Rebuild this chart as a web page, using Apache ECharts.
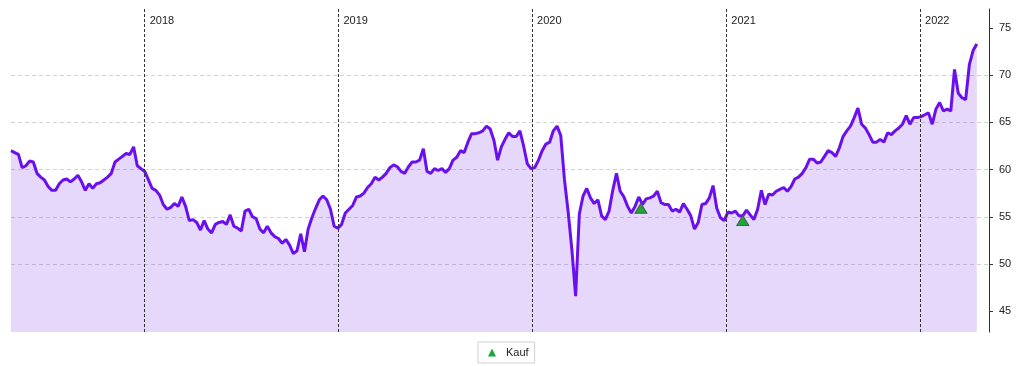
<!DOCTYPE html>
<html>
<head>
<meta charset="utf-8">
<script src="https://cdn.jsdelivr.net/npm/echarts@6/dist/echarts.min.js"></script>
<style>
html,body{margin:0;padding:0;background:#fff;}
#chart{width:1024px;height:366px;}
</style>
</head>
<body>
<div id="chart"></div>
<script>
// Weekly closing values, first week starting 2017-04-24
const startDate = '2017-04-24';
const prices = [
62.0, 61.8, 61.6, 60.2, 60.4, 60.9, 60.8, 59.6, 59.2, 58.9,
58.2, 57.8, 57.8, 58.5, 58.9, 59.0, 58.7, 59.0, 59.4, 58.7,
57.8, 58.5, 58.0, 58.5, 58.6, 58.9, 59.2, 59.6, 60.8, 61.1,
61.4, 61.7, 61.6, 62.4, 60.4, 60.1, 59.8, 58.9, 58.0, 57.8,
57.3, 56.3, 55.8, 56.0, 56.4, 56.1, 57.1, 56.1, 54.6, 54.7,
54.4, 53.6, 54.6, 53.7, 53.3, 54.2, 54.4, 54.5, 54.2, 55.2,
54.0, 53.8, 53.5, 55.6, 55.8, 55.0, 54.8, 53.7, 53.3, 54.0,
53.3, 52.9, 52.7, 52.2, 52.6, 52.0, 51.1, 51.4, 53.2, 51.3,
53.7, 54.9, 55.9, 56.8, 57.2, 56.8, 55.8, 54.0, 53.8, 54.2,
55.4, 55.8, 56.2, 57.1, 57.2, 57.5, 58.1, 58.5, 59.2, 58.9,
59.2, 59.6, 60.2, 60.5, 60.3, 59.8, 59.6, 60.3, 60.8, 60.8,
61.0, 62.2, 59.8, 59.6, 60.1, 59.9, 60.1, 59.7, 60.1, 61.0,
61.3, 62.0, 61.8, 62.9, 63.8, 63.8, 63.9, 64.1, 64.6, 64.3,
63.1, 61.0, 62.4, 63.2, 63.9, 63.5, 63.5, 64.1, 62.5, 60.6,
60.1, 60.2, 61.0, 62.0, 62.7, 62.9, 64.1, 64.6, 63.6, 58.9,
55.5, 51.5, 46.6, 55.3, 57.2, 58.0, 57.0, 56.4, 56.8, 55.1,
54.7, 55.6, 57.8, 59.6, 57.7, 57.1, 56.1, 55.4, 56.1, 57.1,
56.3, 56.9, 57.0, 57.2, 57.7, 56.5, 56.3, 56.3, 55.6, 55.8,
55.5, 56.4, 55.8, 55.1, 53.7, 54.4, 56.3, 56.4, 57.0, 58.3,
55.9, 54.9, 54.6, 55.5, 55.4, 55.6, 55.1, 55.1, 55.7, 55.2,
54.7, 55.8, 57.8, 56.3, 57.4, 57.3, 57.7, 57.9, 58.1, 57.7,
58.2, 59.0, 59.2, 59.6, 60.2, 61.1, 61.1, 60.7, 60.8, 61.4,
62.0, 61.8, 61.4, 62.3, 63.5, 64.1, 64.6, 65.5, 66.5, 64.8,
64.4, 63.7, 62.9, 62.9, 63.2, 62.9, 63.9, 63.7, 64.1, 64.4,
64.8, 65.7, 64.8, 65.5, 65.5, 65.6, 65.8, 66.0, 64.8, 66.4,
67.1, 66.2, 66.4, 66.2, 70.6, 68.1, 67.6, 67.4, 71.1, 72.6,
73.3
];
const buyDates = ['2020-07-24', '2021-02-01'];
const buyValues = [55.9, 54.6];
const yearLines = ['2018-01-01', '2019-01-01', '2020-01-01', '2021-01-01', '2022-01-01'];
const yTicks = [45, 50, 55, 60, 65, 70, 75];
const xMin = '2017-04-24';
const xMax = '2022-05-11';
const yMin = 42.8;
const yMax = 77;

const DAY = 86400000;
const toTs = d => new Date(d + 'T00:00:00').getTime();
const t0 = toTs(startDate);
const priceData = prices.map((v, i) => [t0 + i * 7 * DAY, v]);
const buyData = buyDates.map((d, i) => [toTs(d), buyValues[i]]);
const yearTs = yearLines.map(toTs);

const chart = echarts.init(document.getElementById('chart'), null, {renderer: 'canvas'});
const font = 'Liberation Sans, Arial, sans-serif';
chart.setOption({
  backgroundColor: '#fff',
  animation: false,
  textStyle: {fontFamily: font},
  grid: {left: 11, right: 35, top: 9, bottom: 34, containLabel: false},
  xAxis: {
    type: 'time',
    min: toTs(xMin),
    max: toTs(xMax),
    axisLine: {show: false},
    axisTick: {show: false},
    splitLine: {show: false},
    axisLabel: {show: false}
  },
  yAxis: {
    type: 'value',
    position: 'right',
    min: yMin,
    max: yMax,
    splitNumber: 7,
    axisLine: {show: true, lineStyle: {color: '#333', width: 1}},
    axisTick: {show: true, length: 4, customValues: yTicks, lineStyle: {color: '#333'}},
    axisLabel: {customValues: yTicks, margin: 10, color: '#222', fontSize: 11, fontFamily: font},
    splitLine: {show: true, showMinLine: false, showMaxLine: false, lineStyle: {color: '#d2d2d2', type: [4, 3], width: 1}}
  },
  legend: {
    data: [{name: 'Kauf', icon: 'triangle'}],
    left: 478,
    top: 342,
    padding: [5, 6, 5, 10],
    itemWidth: 8,
    itemHeight: 8,
    borderColor: '#cfcfcf',
    borderWidth: 1,
    itemStyle: {borderWidth: 0},
    textStyle: {fontSize: 11, color: '#222', fontFamily: font, padding: [0, 0, 0, 5]}
  },
  series: [
    {
      name: 'Kurs',
      type: 'line',
      data: priceData,
      symbol: 'none',
      showSymbol: false,
      lineStyle: {color: '#6a10ee', width: 3},
      itemStyle: {color: '#6a10ee'},
      areaStyle: {color: 'rgba(110,40,230,0.26)'},
      z: 2,
      markLine: {
        silent: true,
        symbol: ['none', 'none'],
        label: {
          show: true,
          position: 'end',
          distance: 0,
          align: 'left',
          verticalAlign: 'top',
          padding: [6, 0, 0, 5],
          color: '#222',
          fontSize: 11,
          fontFamily: font,
          formatter: p => String(new Date(p.value).getFullYear())
        },
        lineStyle: {color: '#333', type: [3, 2], width: 1},
        data: yearTs.map(t => ({xAxis: t}))
      }
    },
    {
      name: 'Kauf',
      type: 'scatter',
      data: buyData,
      symbol: 'triangle',
      symbolSize: [12, 10],
      itemStyle: {color: '#1aa83a', borderColor: '#555', borderWidth: 1, opacity: 1},
      z: 5
    }
  ]
});
</script>
</body>
</html>
